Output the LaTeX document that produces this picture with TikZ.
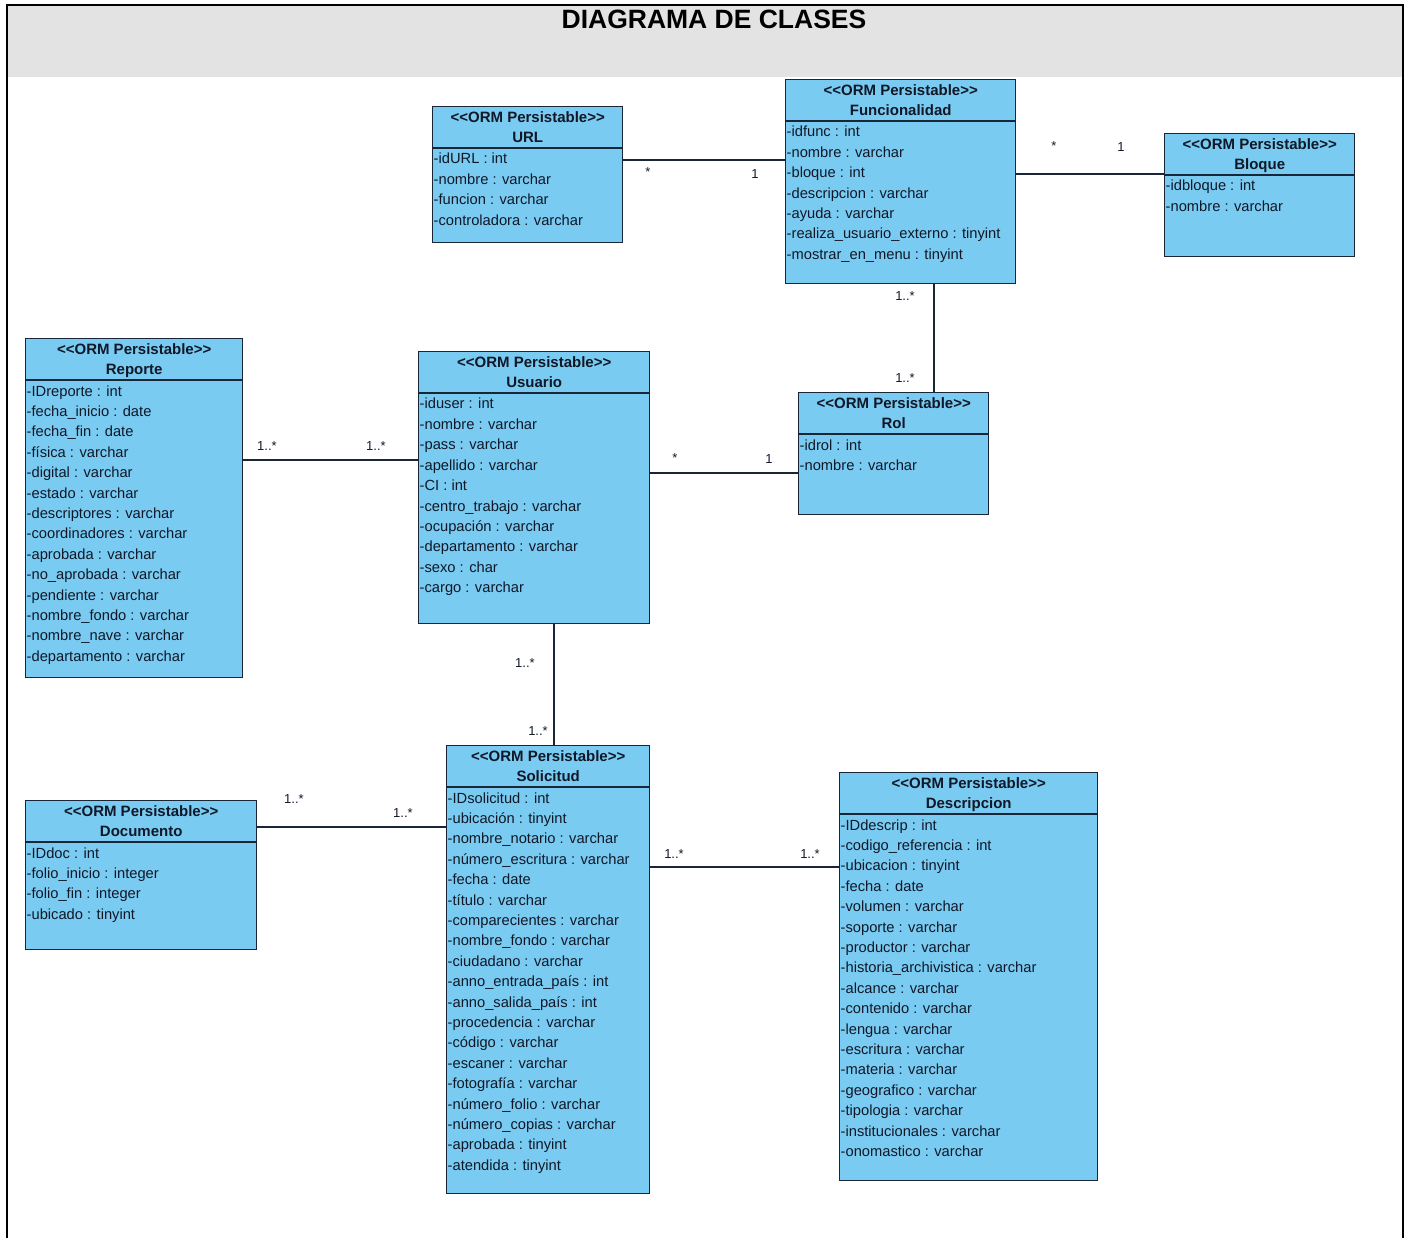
\documentclass[tikz,border=0pt]{standalone}
\usepackage{fontspec}
\setmainfont{Liberation Sans}
\usetikzlibrary{calc}
\definecolor{classfill}{RGB}{122,203,241}
\definecolor{classline}{RGB}{25,38,56}
\definecolor{classtext}{RGB}{16,24,40}
\definecolor{headgrey}{RGB}{227,227,227}

\tikzset{
  classbox/.style={draw=classline, line width=1.4pt, fill=classfill, rectangle, inner sep=0pt},
  stereo/.style={font=\fontsize{15}{15}\selectfont\bfseries, text=classtext, inner sep=0pt, anchor=base},
  attr/.style={font=\fontsize{14.7}{14.7}\selectfont, text=classtext, inner sep=0pt, anchor=base west},
  assoc/.style={draw=classline, line width=1.3pt},
  mult/.style={font=\fontsize{13}{13}\selectfont, text=classtext, inner sep=0pt}
}

% #1 name, #2 left, #3 top, #4 width, #5 height, #6 class name, #7 attributes
\newcommand{\umlclass}[7]{%
  \node[classbox, minimum width=#4pt, minimum height=#5pt, anchor=north west] (#1) at (#2,#3) {};
  \draw[classline, line width=1.4pt] ($(#1.north west)+(0,42)$) -- ($(#1.north east)+(0,42)$);
  \node[stereo] (#1-st) at ($(#1.north)+(0,16.5)$) {{<}{<}ORM Persistable{>}{>}};
  \node[stereo] (#1-nm) at ($(#1.north)+(0,36.5)$) {#6};
  \foreach \a [count=\i] in {#7} {
    \node[attr] (#1-a\i) at ($(#1.north west)+(1.5,{42+16+(\i-1)*20.4})$) {\a};
  }
}

\begin{document}
\begin{tikzpicture}[x=1pt, y=-1pt]
\useasboundingbox (0,0) rectangle (1408,1238);

% frame and title band
\fill[headgrey] (7,5) rectangle (1403,77);
\draw[black, line width=2.6pt] (7,1245) -- (7,5) -- (1403,5) -- (1403,1245);
\node[font=\fontsize{26.5}{26.5}\selectfont\bfseries, text=black, inner sep=0pt, anchor=base] (title) at (714,29) {DIAGRAMA DE CLASES};

% classes
\umlclass{url}{432}{106}{190}{136}{URL}{-idURL : int,-nombre : varchar,-funcion : varchar,-controladora : varchar}
\umlclass{func}{785}{79}{230}{204}{Funcionalidad}{-idfunc : int,-nombre : varchar,-bloque : int,-descripcion : varchar,-ayuda : varchar,-realiza\_usuario\_externo : tinyint,-mostrar\_en\_menu : tinyint}
\umlclass{bloque}{1164}{133}{190}{123}{Bloque}{-idbloque : int,-nombre : varchar}
\umlclass{reporte}{25}{338}{217}{339}{Reporte}{-IDreporte : int,-fecha\_inicio : date,-fecha\_fin : date,-física : varchar,-digital : varchar,-estado : varchar,-descriptores : varchar,-coordinadores : varchar,-aprobada : varchar,-no\_aprobada : varchar,-pendiente : varchar,-nombre\_fondo : varchar,-nombre\_nave : varchar,-departamento : varchar}
\umlclass{usuario}{418}{351}{231}{272}{Usuario}{-iduser : int,-nombre : varchar,-pass : varchar,-apellido : varchar,-CI : int,-centro\_trabajo : varchar,-ocupación : varchar,-departamento : varchar,-sexo : char,-cargo : varchar}
\umlclass{rol}{798}{392}{190}{122}{Rol}{-idrol : int,-nombre : varchar}
\umlclass{solicitud}{446}{745}{203}{448}{Solicitud}{-IDsolicitud : int,-ubicación : tinyint,-nombre\_notario : varchar,-número\_escritura : varchar,-fecha : date,-título : varchar,-comparecientes : varchar,-nombre\_fondo : varchar,-ciudadano : varchar,-anno\_entrada\_país : int,-anno\_salida\_país : int,-procedencia : varchar,-código : varchar,-escaner : varchar,-fotografía : varchar,-número\_folio : varchar,-número\_copias : varchar,-aprobada : tinyint,-atendida : tinyint}
\umlclass{descripcion}{839}{772}{258}{408}{Descripcion}{-IDdescrip : int,-codigo\_referencia : int,-ubicacion : tinyint,-fecha : date,-volumen : varchar,-soporte : varchar,-productor : varchar,-historia\_archivistica : varchar,-alcance : varchar,-contenido : varchar,-lengua : varchar,-escritura : varchar,-materia : varchar,-geografico : varchar,-tipologia : varchar,-institucionales : varchar,-onomastico : varchar}
\umlclass{documento}{25}{800}{231}{149}{Documento}{-IDdoc : int,-folio\_inicio : integer,-folio\_fin : integer,-ubicado : tinyint}

% associations
\draw[assoc] (url.east |- 0,160) -- (func.west |- 0,160);
\node[mult] (m-uf1) at (648,172) {*};
\node[mult] (m-uf2) at (755,174) {1};

\draw[assoc] (func.east |- 0,174) -- (bloque.west |- 0,174);
\node[mult] (m-fb1) at (1054,146) {*};
\node[mult] (m-fb2) at (1121,147) {1};

\draw[assoc] (func.south -| 934,0) -- (rol.north -| 934,0);
\node[mult] (m-fr1) at (905,296) {1..*};
\node[mult] (m-fr2) at (905,378) {1..*};

\draw[assoc] (reporte.east |- 0,460) -- (usuario.west |- 0,460);
\node[mult] (m-ru1) at (267,446) {1..*};
\node[mult] (m-ru2) at (376,446) {1..*};

\draw[assoc] (usuario.east |- 0,473) -- (rol.west |- 0,473);
\node[mult] (m-ur1) at (675,458) {*};
\node[mult] (m-ur2) at (769,459) {1};

\draw[assoc] (usuario.south -| 554,0) -- (solicitud.north -| 554,0);
\node[mult] (m-us1) at (525,663) {1..*};
\node[mult] (m-us2) at (538,731) {1..*};

\draw[assoc] (documento.east |- 0,827) -- (solicitud.west |- 0,827);
\node[mult] (m-ds1) at (294,799) {1..*};
\node[mult] (m-ds2) at (403,813) {1..*};

\draw[assoc] (solicitud.east |- 0,867) -- (descripcion.west |- 0,867);
\node[mult] (m-sd1) at (674,854) {1..*};
\node[mult] (m-sd2) at (810,854) {1..*};
\end{tikzpicture}
\end{document}
